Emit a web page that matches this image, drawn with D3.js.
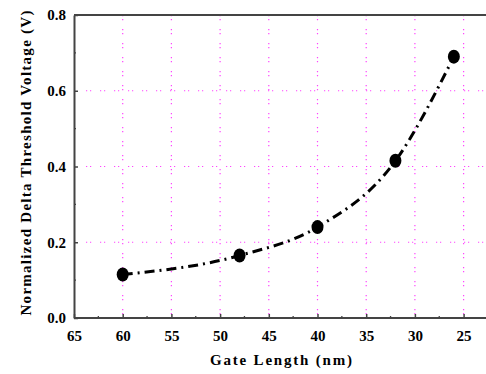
<!DOCTYPE html>
<html>
<head>
<meta charset="utf-8">
<script src="https://cdn.jsdelivr.net/npm/d3@7"></script>
<style>
  body { margin: 0; background: #fff; }
  text { font-family: "Liberation Serif", "Times New Roman", serif; font-weight: bold; fill: #000; }
</style>
</head>
<body>
<div id="chart"></div>
<script>
// data
const gateLength = [60, 48, 40, 32, 26];
const deltaVth = [0.115, 0.165, 0.24, 0.415, 0.69];
const xTicks = [65, 60, 55, 50, 45, 40, 35, 30, 25];
const yTicks = [0.0, 0.2, 0.4, 0.6, 0.8];

const W = 486, H = 374;
const margin = { top: 15, right: 0, bottom: 56, left: 74 };
const width = W - margin.left - margin.right;
const height = H - margin.top - margin.bottom;
const serif = '"Liberation Serif", "Times New Roman", serif';

const svg = d3.select('#chart').append('svg')
  .attr('width', W)
  .attr('height', H);

const g = svg.append('g')
  .attr('transform', `translate(${margin.left}, ${margin.top})`);

const x = d3.scaleLinear()
  .domain([65, 22.7])
  .range([0, width]);

const y = d3.scaleLinear()
  .domain([0, 0.8])
  .range([height, 0]);

// dotted magenta grid
const gridColor = '#ff44ff';
g.append('g')
  .selectAll('line')
  .data(xTicks.slice(1))
  .join('line')
  .attr('x1', d => x(d)).attr('x2', d => x(d))
  .attr('y1', 0).attr('y2', height)
  .attr('stroke', gridColor)
  .attr('stroke-width', 1.2)
  .attr('stroke-dasharray', '1.2,2.8,1.2,8.8');

g.append('g')
  .selectAll('line')
  .data(yTicks.slice(1, -1))
  .join('line')
  .attr('x1', 12).attr('x2', width)
  .attr('y1', d => y(d)).attr('y2', d => y(d))
  .attr('stroke', gridColor)
  .attr('stroke-width', 1.2)
  .attr('stroke-dasharray', '1.2,2.8,1.2,8.8');

// axes, ticks pointing inwards
const axisColor = '#444';

const xAxis = g.append('g')
  .attr('transform', `translate(0, ${height})`)
  .call(d3.axisBottom(x).tickValues(xTicks).tickSizeInner(-4).tickSizeOuter(0).tickPadding(12).tickFormat(d3.format('d')));
xAxis.select('.domain').attr('stroke', axisColor).attr('stroke-width', 2)
  .attr('d', `M0,0H${width}`);
xAxis.selectAll('.tick line').attr('stroke', axisColor).attr('stroke-width', 1.5);
xAxis.selectAll('text')
  .style('font-family', serif)
  .style('font-weight', 'bold')
  .style('font-size', '15px')
  .attr('fill', '#000');

const xMinor = d3.range(62.5, 22.7, -5);
g.append('g')
  .selectAll('line')
  .data(xMinor)
  .join('line')
  .attr('x1', d => x(d)).attr('x2', d => x(d))
  .attr('y1', height).attr('y2', height - 2)
  .attr('stroke', axisColor)
  .attr('stroke-width', 1.3);

const yAxis = g.append('g')
  .call(d3.axisLeft(y).tickValues(yTicks).tickSizeInner(-4).tickSizeOuter(0).tickPadding(8).tickFormat(d3.format('.1f')));
yAxis.select('.domain').attr('stroke', axisColor).attr('stroke-width', 2);
yAxis.selectAll('.tick line').attr('stroke', axisColor).attr('stroke-width', 1.5);
yAxis.selectAll('text')
  .style('font-family', serif)
  .style('font-weight', 'bold')
  .style('font-size', '15px')
  .attr('fill', '#000');

const yMinor = [0.1, 0.3, 0.5, 0.7];
g.append('g')
  .selectAll('line')
  .data(yMinor)
  .join('line')
  .attr('x1', 0).attr('x2', 2)
  .attr('y1', d => y(d)).attr('y2', d => y(d))
  .attr('stroke', axisColor)
  .attr('stroke-width', 1.3);

// top frame line
g.append('line')
  .attr('x1', 0).attr('x2', width)
  .attr('y1', 0).attr('y2', 0)
  .attr('stroke', axisColor)
  .attr('stroke-width', 2);

// dash-dot curve through the points
const points = gateLength.map((d, i) => [d, deltaVth[i]]);
const line = d3.line()
  .x(d => x(d[0]))
  .y(d => y(d[1]))
  .curve(d3.curveMonotoneX);

g.append('path')
  .datum(points)
  .attr('d', line)
  .attr('fill', 'none')
  .attr('stroke', '#000')
  .attr('stroke-width', 3)
  .attr('stroke-dasharray', '10,5,2,5');

g.append('g')
  .selectAll('ellipse')
  .data(points)
  .join('ellipse')
  .attr('cx', d => x(d[0]))
  .attr('cy', d => y(d[1]))
  .attr('rx', 6)
  .attr('ry', 7)
  .attr('fill', '#000');

// axis titles
svg.append('text')
  .attr('x', 281)
  .attr('y', 365)
  .attr('text-anchor', 'middle')
  .style('font-size', '15px')
  .attr('textLength', 142)
  .attr('lengthAdjust', 'spacing')
  .text('Gate Length (nm)');

svg.append('text')
  .attr('transform', 'translate(31, 163) rotate(-90)')
  .attr('text-anchor', 'middle')
  .style('font-size', '15px')
  .attr('textLength', 305)
  .attr('lengthAdjust', 'spacing')
  .text('Normalized Delta Threshold Voltage (V)');
</script>
</body>
</html>
